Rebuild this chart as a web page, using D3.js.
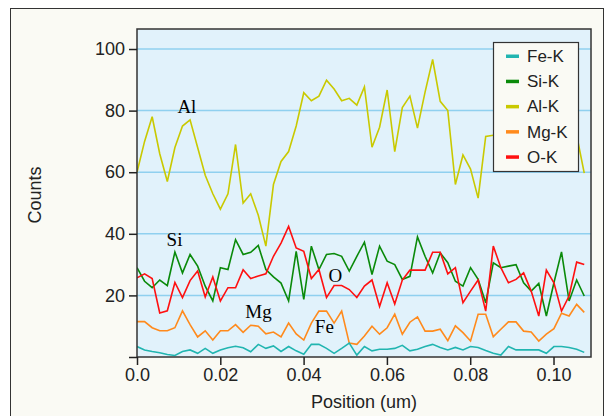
<!DOCTYPE html>
<html>
<head>
<meta charset="utf-8">
<script src="https://cdn.jsdelivr.net/npm/d3@7"></script>
<style>
  html, body { margin: 0; padding: 0; background: #ffffff; }
  svg { display: block; }
  .axis text { font-family: "Liberation Sans", Arial, sans-serif; font-size: 18px; fill: #222; }
  .axis path, .axis line { stroke: #222; }
  .title { font-family: "Liberation Sans", Arial, sans-serif; font-size: 18px; fill: #222; }
  .note { font-family: "Liberation Serif", "Times New Roman", serif; font-size: 19px; fill: #000; }
</style>
</head>
<body>
<svg id="chart" width="610" height="416"></svg>
<script>
// scan positions (um), one per sample
var positions = [0, 0.00182, 0.00364, 0.00546, 0.00728, 0.0091, 0.01092, 0.01274, 0.01456, 0.01638,
  0.0182, 0.02002, 0.02184, 0.02366, 0.02548, 0.0273, 0.02912, 0.03094, 0.03276, 0.03458,
  0.0364, 0.03822, 0.04004, 0.04186, 0.04368, 0.0455, 0.04732, 0.04914, 0.05096, 0.05278,
  0.0546, 0.05642, 0.05824, 0.06006, 0.06188, 0.0637, 0.06552, 0.06734, 0.06916, 0.07098,
  0.0728, 0.07462, 0.07644, 0.07826, 0.08008, 0.0819, 0.08372, 0.08554, 0.08736, 0.08918,
  0.091, 0.09282, 0.09464, 0.09646, 0.09828, 0.1001, 0.10192, 0.10374, 0.10556, 0.10738]

var feK = [3.4, 2.3, 1.8, 1.4, 0.8, 0.5, 1.8, 2.3, 1.2, 2.8,
  1.2, 2.3, 3, 3.5, 3, 1.7, 4.1, 2.8, 3.6, 1.8,
  3.4, 2, 0.9, 4.1, 4.1, 2.8, 1.2, 2.8, 4.5, 0.6,
  3.4, 2, 2.5, 2.5, 2.8, 3.8, 2, 2.5, 3.4, 4.1,
  3.1, 2.3, 3.1, 2.3, 3.4, 3.1, 2.1, 1.2, 0.6, 3.4,
  2.3, 2.3, 2.3, 2.3, 1.2, 3.4, 3.4, 3.1, 2.5, 1.5]

var siK = [29, 24.6, 22.5, 25, 23.2, 34.1, 27.3, 33.3, 29.5, 23,
  18.2, 29, 28.4, 38.1, 33.3, 34, 36.2, 28.4, 26, 24,
  18.2, 34.3, 18.7, 36, 28.4, 33.3, 33.6, 32.7, 27.9, 32.7,
  37.3, 26.8, 36, 31.1, 30, 25.2, 26.2, 39, 32.7, 27.3,
  33.8, 30.6, 24.6, 23, 29, 25.2, 17.6, 30.6, 29, 29.5,
  30, 24.1, 21.4, 23.9, 13.3, 24.1, 34.1, 18.2, 25, 19.8]

var alK = [60, 70, 78, 66, 57, 68, 75, 77, 68, 59,
  53, 48, 53, 69, 50, 53, 46, 36, 56, 63.5,
  66.7, 75, 85.8, 83.2, 84.7, 89.9, 87, 83.2, 84, 81.8,
  87.7, 68.1, 74.6, 86.7, 66.7, 81, 84.7, 74.3, 86, 96.6,
  83, 80, 56, 65.6, 61, 51.6, 71.6, 72, 72, 76,
  70, 78, 74, 69, 75, 78, 71, 74, 72, 59.7]

var mgK = [11.5, 11.5, 9.5, 8.5, 8.5, 9.5, 15, 10.5, 6.5, 8.5,
  5.5, 8.5, 8.5, 10.5, 8, 10.3, 10, 7.5, 8.1, 6.5,
  11, 7.5, 5.5, 11, 14.9, 14.9, 11, 14.9, 4.5, 4.1,
  6.8, 10, 7.4, 9.5, 13.9, 7.4, 11.3, 13, 8.4, 8.4,
  9, 5.3, 10.1, 7.9, 5.2, 13.9, 13.9, 6.6, 9, 11.4,
  11.4, 8.4, 8.1, 5.2, 7.4, 9.2, 14.2, 13.3, 17.1, 14.5]

var oK = [25.7, 27, 25.5, 14.3, 15, 24.2, 19.3, 24.8, 27.9, 19.5,
  26, 18.2, 22.5, 22.5, 28.3, 25.5, 26.3, 27, 32.7, 37,
  42.4, 35.4, 34.3, 25.5, 28.4, 19.3, 23.2, 23.2, 21.9, 19.3,
  23, 25, 16.4, 24.1, 17.2, 25, 28.2, 28.2, 28.2, 34,
  34, 27, 29, 17.6, 21.4, 25, 14.9, 36, 29, 24.1,
  25.2, 27.3, 21.4, 13.3, 28.2, 24.1, 14.9, 19.8, 30.8, 30]

// drawing order: Al first, Fe on top
var seriesNames = ['Fe-K', 'Si-K', 'Al-K', 'Mg-K', 'O-K']
var seriesColors = ['#21b5b0', '#0a8a0a', '#c9c900', '#ff8a1c', '#ff1010']
var seriesValues = [feK, siK, alK, mgK, oK]

var yTicks = [0, 20, 40, 60, 80, 100]
var xTicks = [0, 0.02, 0.04, 0.06, 0.08, 0.10]
var xTickLabels = ['0.0', '0.02', '0.04', '0.06', '0.08', '0.10']

// element labels written inside the plot (data units)
var noteText = ['Al', 'Si', 'Mg', 'O', 'Fe']
var noteX = [0.0097, 0.0071, 0.0260, 0.0460, 0.0427]
var noteY = [79.2, 36.2, 12.7, 24.4, 7.8]

var svg = d3.select('#chart')
var plot = {left: 137, right: 591, top: 29, bottom: 357}

// outer frame
svg.append('rect')
  .attr('x', 10.5).attr('y', 8.5)
  .attr('width', 593).attr('height', 420)
  .attr('fill', '#fafaf4')
  .attr('stroke', '#333').attr('stroke-width', 1)

var xScale = d3.scaleLinear()
  .domain([0, 0.109])
  .range([plot.left, plot.right])

var yScale = d3.scaleLinear()
  .domain([0, 106.5])
  .range([plot.bottom, plot.top])

// plot background
svg.append('rect')
  .attr('x', plot.left).attr('y', plot.top)
  .attr('width', plot.right - plot.left)
  .attr('height', plot.bottom - plot.top)
  .attr('fill', '#e1f2fb')

// grid lines
svg.append('g').attr('class', 'grid')
  .selectAll('line')
  .data(yTicks.filter(function(d) { return d > 0 }))
  .enter().append('line')
    .attr('x1', plot.left).attr('x2', plot.right)
    .attr('y1', function(d) { return yScale(d) })
    .attr('y2', function(d) { return yScale(d) })
    .attr('stroke', '#8fd0ef').attr('stroke-width', 1.5)

svg.append('clipPath').attr('id', 'clip')
  .append('rect')
    .attr('x', plot.left).attr('y', plot.top)
    .attr('width', plot.right - plot.left)
    .attr('height', plot.bottom - plot.top)

var line = d3.line()
  .x(function(d, i) { return xScale(positions[i]) })
  .y(function(d) { return yScale(d) })

var order = [2, 1, 4, 3, 0]
svg.append('g').attr('clip-path', 'url(#clip)')
  .selectAll('path')
  .data(order)
  .enter().append('path')
    .attr('d', function(k) { return line(seriesValues[k]) })
    .attr('fill', 'none')
    .attr('stroke', function(k) { return seriesColors[k] })
    .attr('stroke-width', 1.6)
    .attr('stroke-linejoin', 'miter')

// plot border
svg.append('rect')
  .attr('x', plot.left).attr('y', plot.top)
  .attr('width', plot.right - plot.left)
  .attr('height', plot.bottom - plot.top)
  .attr('fill', 'none')
  .attr('stroke', '#333').attr('stroke-width', 1.5)

/* y axis */
svg.append('g')
  .attr('class', 'axis axis--y')
  .attr('transform', 'translate(' + plot.left + ',0)')
  .call(d3.axisLeft(yScale)
    .tickValues(yTicks)
    .tickSize(8)
    .tickPadding(4)
    .tickFormat(function(d) { return d === 0 ? '' : d }))
  .call(function(g) { g.select('.domain').remove() })

/* x axis */
svg.append('g')
  .attr('class', 'axis axis--x')
  .attr('transform', 'translate(0,' + plot.bottom + ')')
  .call(d3.axisBottom(xScale)
    .tickValues(xTicks)
    .tickSize(8)
    .tickPadding(3)
    .tickFormat(function(d, i) { return xTickLabels[i] }))
  .call(function(g) { g.select('.domain').remove() })

svg.selectAll('.axis line').attr('stroke-width', 1.5)

// axis titles
svg.append('text').attr('class', 'title')
  .attr('x', 364).attr('y', 408)
  .attr('text-anchor', 'middle')
  .text('Position (um)')

svg.append('text').attr('class', 'title')
  .attr('transform', 'translate(41,195) rotate(-90)')
  .attr('text-anchor', 'middle')
  .text('Counts')

// element notes
svg.append('g').selectAll('text')
  .data(noteText)
  .enter().append('text')
    .attr('class', 'note')
    .attr('x', function(d, i) { return xScale(noteX[i]) })
    .attr('y', function(d, i) { return yScale(noteY[i]) })
    .text(function(d) { return d })

// legend
var legend = svg.append('g').attr('transform', 'translate(493,42)')
legend.append('rect')
  .attr('x', 0.5).attr('y', 0.5)
  .attr('width', 85).attr('height', 129)
  .attr('fill', '#fafaf4')
  .attr('stroke', '#333').attr('stroke-width', 1.2)

var items = legend.selectAll('g.item')
  .data(seriesNames)
  .enter().append('g')
    .attr('class', 'item')
    .attr('transform', function(d, i) { return 'translate(0,' + (14 + i * 25.2) + ')' })

items.append('rect')
  .attr('x', 13).attr('y', -1.5)
  .attr('width', 13).attr('height', 3.5)
  .attr('fill', function(d, i) { return seriesColors[i] })

items.append('text')
  .attr('x', 34).attr('y', 6)
  .attr('font-family', '"Liberation Sans", Arial, sans-serif')
  .attr('font-size', 17)
  .attr('fill', '#222')
  .text(function(d) { return d })
</script>
</body>
</html>
